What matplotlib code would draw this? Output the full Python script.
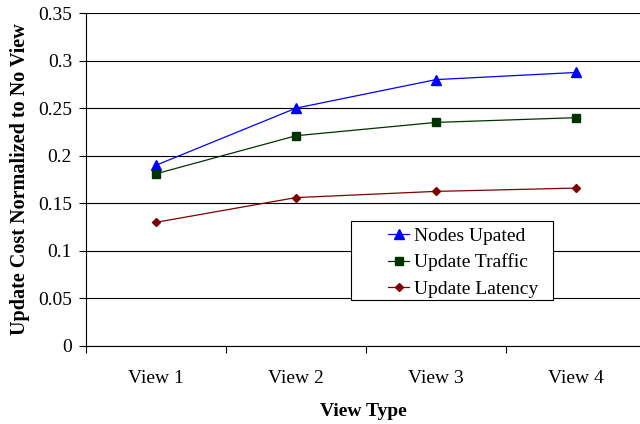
import matplotlib
matplotlib.use("Agg")
import matplotlib.pyplot as plt
from matplotlib.patches import Rectangle

plt.rcParams["font.family"] = ["Liberation Serif", "DejaVu Serif"]

views = ["View 1", "View 2", "View 3", "View 4"]
nodes_updated = [0.190, 0.250, 0.280, 0.2875]
update_traffic = [0.181, 0.221, 0.235, 0.240]
update_latency = [0.130, 0.156, 0.1625, 0.166]
y_ticks = [0, 0.05, 0.1, 0.15, 0.2, 0.25, 0.3, 0.35]
y_tick_labels = ["0", "0.05", "0.1", "0.15", "0.2", "0.25", "0.3", "0.35"]

fs = 14

fig = plt.figure(figsize=(6.4, 4.24), dpi=100)
ax = fig.add_axes([86 / 640, 78 / 424, 554 / 640, 333 / 424])

x = list(range(1, len(views) + 1))
ax.plot(x, nodes_updated, color="#0000ff", lw=0.9, marker="^", ms=6.5,
        markeredgecolor="#0000ff", label="Nodes Upated", zorder=3, clip_on=False)
ax.plot(x, update_traffic, color="#003300", lw=0.9, marker="s", ms=5.5,
        markeredgecolor="#003300", label="Update Traffic", zorder=3, clip_on=False)
ax.plot(x, update_latency, color="#800000", lw=0.9, marker="D", ms=4.5,
        markeredgecolor="#800000", label="Update Latency", zorder=3, clip_on=False)

ax.set_ylim(0, 0.35)
ax.set_xlim(0.5, 0.5 + 554 / 140)
ax.set_yticks(y_ticks)
ax.set_yticklabels(y_tick_labels, fontsize=fs)
ax.set_xticks([0.5, 1.5, 2.5, 3.5])
ax.set_xticklabels([])
ax.set_xticks(x, minor=True)
ax.set_xticklabels(views, minor=True, fontsize=fs)
ax.tick_params(axis="x", which="minor", length=0, pad=17)
ax.tick_params(axis="x", which="major", direction="out", length=5, width=0.8)
ax.tick_params(axis="y", direction="out", length=5, width=0.8, pad=5)

ax.yaxis.grid(True, color="#000000", lw=0.8)
ax.set_axisbelow(True)
for side in ["top", "right"]:
    ax.spines[side].set_visible(False)
for side in ["left", "bottom"]:
    ax.spines[side].set_linewidth(0.8)
    ax.spines[side].set_color("#000000")

ax.set_xlabel("View Type", fontsize=fs, fontweight="bold", labelpad=12)
ax.set_ylabel("Update Cost Normalized to No View", fontsize=14.5,
              fontweight="bold", labelpad=6)

# legend box drawn separately (Excel style, text offset inside)
box = Rectangle(((351 - 86) / 554, (346 - 300) / 333), 202 / 554, 79 / 333,
                transform=ax.transAxes, facecolor="white", edgecolor="#000000",
                lw=0.8, zorder=4)
ax.add_patch(box)
leg = ax.legend(loc="upper left", bbox_to_anchor=((388 - 86) / 554, (346 - 227) / 333),
                frameon=False, fontsize=fs, handlelength=1.1, handletextpad=0.25,
                labelspacing=0.46, borderpad=0, borderaxespad=0)
leg.set_zorder(5)

fig.savefig("out.png", dpi=100)
